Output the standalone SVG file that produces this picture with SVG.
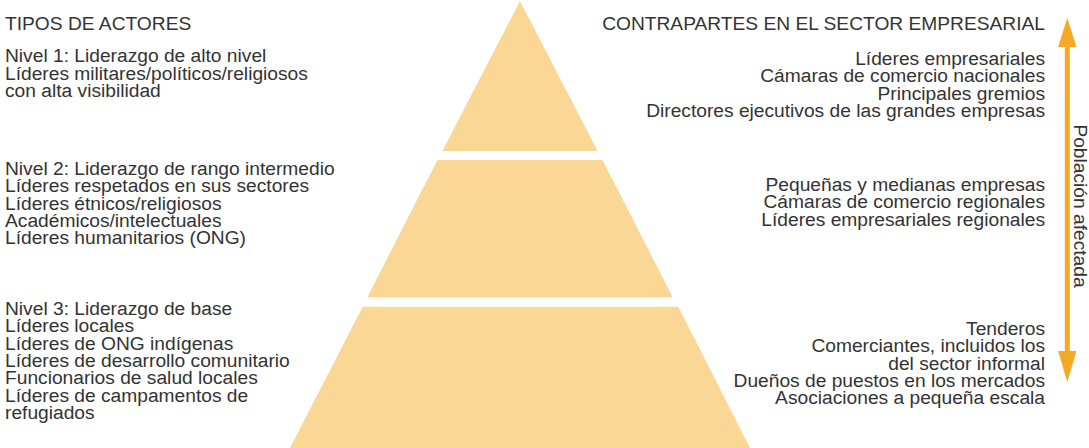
<svg xmlns="http://www.w3.org/2000/svg" width="1089" height="448" viewBox="0 0 1089 448">
  <style>
    .tier { fill: #FAD795; }
    .t { font-family: "Liberation Sans", Arial, Helvetica, sans-serif; font-size: 19.2px; fill: #333333; }
    .r { text-anchor: end; }
    .arrow { fill: #F4AA24; }
  </style>
  <rect width="1089" height="448" fill="#ffffff"/>

  <g id="tier1">
    <polygon class="tier" points="520,1 597.6,151 442.4,151"/>
  </g>
  <g id="tier2">
    <polygon class="tier" points="437.4,160 602.6,160 672.7,297.3 367.3,297.3"/>
  </g>
  <g id="tier3">
    <polygon class="tier" points="362.7,306.8 678.3,306.8 750,448 290,448"/>
  </g>

  <g id="header-left">
    <text class="t" x="5" y="30">TIPOS DE ACTORES</text>
  </g>
  <g id="header-right">
    <text class="t r" x="1045" y="30">CONTRAPARTES EN EL SECTOR EMPRESARIAL</text>
  </g>

  <g id="level1-actors">
    <text class="t" x="5" y="62">Nivel 1: Liderazgo de alto nivel</text>
    <text class="t" x="5" y="79.5">Líderes militares/políticos/religiosos</text>
    <text class="t" x="5" y="97">con alta visibilidad</text>
  </g>
  <g id="level2-actors">
    <text class="t" x="5" y="175">Nivel 2: Liderazgo de rango intermedio</text>
    <text class="t" x="5" y="192.3">Líderes respetados en sus sectores</text>
    <text class="t" x="5" y="209.6">Líderes étnicos/religiosos</text>
    <text class="t" x="5" y="226.9">Académicos/intelectuales</text>
    <text class="t" x="5" y="244.2">Líderes humanitarios (ONG)</text>
  </g>
  <g id="level3-actors">
    <text class="t" x="5" y="315">Nivel 3: Liderazgo de base</text>
    <text class="t" x="5" y="332.3">Líderes locales</text>
    <text class="t" x="5" y="349.6">Líderes de ONG indígenas</text>
    <text class="t" x="5" y="366.9">Líderes de desarrollo comunitario</text>
    <text class="t" x="5" y="384.2">Funcionarios de salud locales</text>
    <text class="t" x="5" y="401.5">Líderes de campamentos de</text>
    <text class="t" x="5" y="418.8">refugiados</text>
  </g>

  <g id="level1-business">
    <text class="t r" x="1045" y="65">Líderes empresariales</text>
    <text class="t r" x="1045" y="82.3">Cámaras de comercio nacionales</text>
    <text class="t r" x="1045" y="99.6">Principales gremios</text>
    <text class="t r" x="1045" y="116.9">Directores ejecutivos de las grandes empresas</text>
  </g>
  <g id="level2-business">
    <text class="t r" x="1045" y="191">Pequeñas y medianas empresas</text>
    <text class="t r" x="1045" y="208.3">Cámaras de comercio regionales</text>
    <text class="t r" x="1045" y="225.6">Líderes empresariales regionales</text>
  </g>
  <g id="level3-business">
    <text class="t r" x="1045" y="335">Tenderos</text>
    <text class="t r" x="1045" y="352.3">Comerciantes, incluidos los</text>
    <text class="t r" x="1045" y="369.6">del sector informal</text>
    <text class="t r" x="1045" y="386.9">Dueños de puestos en los mercados</text>
    <text class="t r" x="1045" y="404.2">Asociaciones a pequeña escala</text>
  </g>

  <g id="connectors">
    <rect class="arrow" x="1064.8" y="44" width="5" height="309"/>
    <polygon class="arrow" points="1067.3,18 1076.5,47 1058.1,47"/>
    <polygon class="arrow" points="1067.3,382 1076.5,351 1058.1,351"/>
  </g>
  <g id="arrow-label">
    <text class="t" text-anchor="middle" transform="translate(1073.5,206) rotate(90)">Población afectada</text>
  </g>
</svg>
